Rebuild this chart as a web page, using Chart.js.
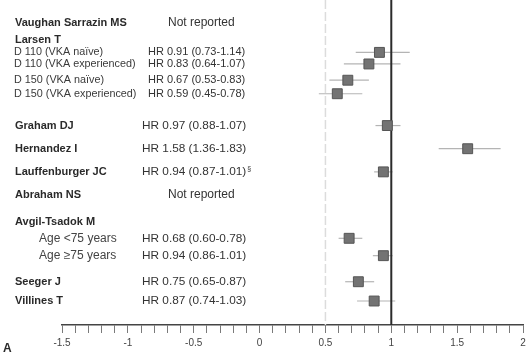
<!DOCTYPE html>
<html>
<head>
<meta charset="utf-8">
<script src="https://cdn.jsdelivr.net/npm/chart.js@4/dist/chart.umd.min.js"></script>
<style>
  body { margin: 0; background: #fff; }
  #wrap { width: 531px; height: 357px; position: relative; }
</style>
</head>
<body>
<div id="wrap"><canvas id="myChart"></canvas></div>
<script>
// rows of the forest plot, top to bottom
var studies = ['Vaughan Sarrazin MS', 'Larsen T', 'D 110 (VKA naïve)', 'D 110 (VKA experienced)',
  'D 150 (VKA naïve)', 'D 150 (VKA experienced)', 'Graham DJ', 'Hernandez I', 'Lauffenburger JC',
  'Abraham NS', 'Avgil-Tsadok M', 'Age <75 years', 'Age \u226575 years', 'Seeger J', 'Villines T']
var hr = [null, null, 0.91, 0.83, 0.67, 0.59, 0.97, 1.58, 0.94, null, null, 0.68, 0.94, 0.75, 0.87]
var lower = [null, null, 0.73, 0.64, 0.53, 0.45, 0.88, 1.36, 0.87, null, null, 0.60, 0.86, 0.65, 0.74]
var upper = [null, null, 1.14, 1.07, 0.83, 0.78, 1.07, 1.83, 1.01, null, null, 0.78, 1.01, 0.87, 1.03]
var notes = ['', '', '', '', '', '', '', '', '\u00a7', '', '', '', '', '', '']
var reported = [false, null, true, true, true, true, true, true, true, false, null, true, true, true, true]
var tickMin = -1.5
var tickMax = 2

// layout: vertical slot of each row (in row units) and its kind
var rowSlot = [1.05, 2.31, 3.22, 4.06, 5.24, 6.22, 8.53, 10.21, 11.89, 13.57, 15.52, 16.71, 17.97, 19.86, 21.26]
var rowKind = ['study', 'study', 'sub', 'sub', 'sub', 'sub', 'study', 'study', 'study', 'study', 'study', 'age', 'age', 'study', 'study']

var FONT = '"Liberation Sans", Arial, sans-serif'

function fmt(v) { return v.toFixed(2) }

var points = []
for (var i = 0; i < studies.length; i++) {
    if (hr[i] != null) points.push({x: hr[i], y: rowSlot[i]})
}

var forestPlugin = {
    id: 'forest',
    beforeDatasetsDraw: function(chart) {
        var ctx = chart.ctx, xs = chart.scales.x, ys = chart.scales.y
        var area = chart.chartArea
        ctx.save()
        // reference line at 0.5
        ctx.strokeStyle = '#dcdcdc'
        ctx.lineWidth = 1.5
        ctx.setLineDash([9, 3])
        var x5 = xs.getPixelForValue(0.5)
        ctx.beginPath(); ctx.moveTo(x5, 0); ctx.lineTo(x5, area.bottom); ctx.stroke()
        ctx.setLineDash([])
        // confidence intervals
        ctx.strokeStyle = '#b4b4b4'
        ctx.lineWidth = 1.2
        for (var i = 0; i < studies.length; i++) {
            if (hr[i] == null) continue
            var y = ys.getPixelForValue(rowSlot[i])
            ctx.beginPath()
            ctx.moveTo(xs.getPixelForValue(lower[i]), y)
            ctx.lineTo(xs.getPixelForValue(upper[i]), y)
            ctx.stroke()
        }
        // line of no effect
        ctx.strokeStyle = '#2b2b2b'
        ctx.lineWidth = 2
        var x1 = xs.getPixelForValue(1)
        ctx.beginPath(); ctx.moveTo(x1, 0); ctx.lineTo(x1, area.bottom); ctx.stroke()
        ctx.restore()
    },
    afterDraw: function(chart) {
        var ctx = chart.ctx, ys = chart.scales.y
        ctx.save()
        ctx.textBaseline = 'middle'
        for (var i = 0; i < studies.length; i++) {
            var y = ys.getPixelForValue(rowSlot[i])
            var kind = rowKind[i]
            if (kind == 'study') {
                ctx.font = 'bold 11px ' + FONT
                ctx.fillStyle = '#2a2a2a'
                ctx.fillText(studies[i], 15, y)
            } else if (kind == 'sub') {
                ctx.font = '10.8px ' + FONT
                ctx.fillStyle = '#3a3a3a'
                ctx.fillText(studies[i], 14, y)
            } else {
                ctx.font = '12px ' + FONT
                ctx.fillStyle = '#444'
                ctx.fillText(studies[i], 39, y)
            }
            if (reported[i] === false) {
                ctx.font = '12px ' + FONT
                ctx.fillStyle = '#333'
                ctx.fillText('Not reported', 168, y)
            } else if (reported[i]) {
                var txt = 'HR ' + fmt(hr[i]) + ' (' + fmt(lower[i]) + '-' + fmt(upper[i]) + ')'
                var tx = kind == 'sub' ? 148 : 142
                ctx.font = (kind == 'sub' ? '11px ' : '11.8px ') + FONT
                ctx.fillStyle = '#333'
                ctx.fillText(txt, tx, y)
                if (notes[i]) {
                    var w = ctx.measureText(txt).width
                    ctx.font = '7px ' + FONT
                    ctx.fillText(notes[i], tx + w + 1, y - 3)
                }
            }
        }
        ctx.font = 'bold 12px ' + FONT
        ctx.fillStyle = '#2a2a2a'
        ctx.fillText('A', 3, 349)
        ctx.restore()
    }
}

var ctx = document.getElementById('myChart')
var chart = new Chart(ctx, {
    type: 'scatter',
    data: {
        datasets: [{
            data: points,
            pointStyle: 'rect',
            pointRadius: 7,
            pointHoverRadius: 7,
            backgroundColor: '#737373',
            borderColor: '#555',
            borderWidth: 1
        }]
    },
    options: {
        responsive: true,
        maintainAspectRatio: false,
        animation: false,
        events: [],
        layout: { padding: { left: 62, right: 4, top: 0, bottom: 4 } },
        plugins: { legend: { display: false }, tooltip: { enabled: false } },
        scales: {
            x: {
                type: 'linear',
                min: tickMin,
                max: tickMax,
                grid: { drawOnChartArea: false, drawTicks: true, tickLength: 8, color: '#7a7a7a', lineWidth: 1 },
                border: { display: true, color: '#444', width: 1.5 },
                ticks: {
                    stepSize: 0.1,
                    autoSkip: false,
                    maxRotation: 0,
                    padding: 4,
                    color: '#444',
                    font: { family: FONT, size: 10 },
                    callback: function(v) {
                        var h = v * 2
                        if (Math.abs(h - Math.round(h)) < 1e-6) return String(Math.round(h) / 2)
                        return ''
                    }
                }
            },
            y: {
                type: 'linear',
                display: false,
                reverse: true,
                min: 0,
                max: 23
            }
        }
    },
    plugins: [forestPlugin]
})
</script>
</body>
</html>
